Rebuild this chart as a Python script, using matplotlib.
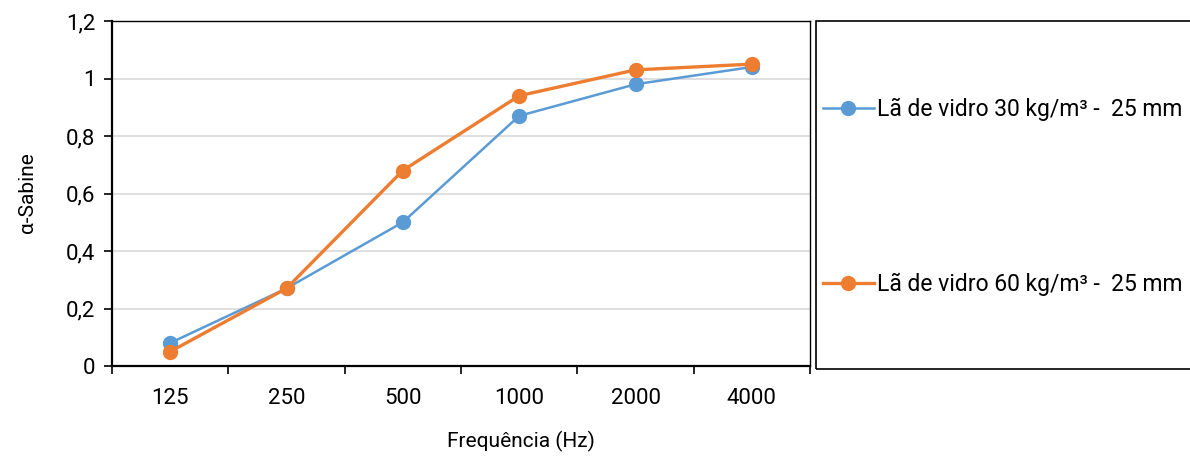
import matplotlib

matplotlib.use("Agg")

import matplotlib.pyplot as plt
from matplotlib.patches import Rectangle
from matplotlib.ticker import FuncFormatter

FREQS = ["125", "250", "500", "1000", "2000", "4000"]
WOOL_30 = [0.08, 0.27, 0.50, 0.87, 0.98, 1.04]
WOOL_60 = [0.05, 0.27, 0.68, 0.94, 1.03, 1.05]
LABELS = ["Lã de vidro 30 kg/m³ -  25 mm", "Lã de vidro 60 kg/m³ -  25 mm"]
COLORS = ["#5B9BD5", "#ED7D31"]

plt.rcParams["font.family"] = ["Roboto", "DejaVu Sans"]

W, H = 1190, 458
fig = plt.figure(figsize=(W / 100, H / 100), dpi=100)
ax = fig.add_axes([112 / W, 1 - 366 / H, 698 / W, 345 / H])

x = list(range(len(FREQS)))
h1, = ax.plot(x, WOOL_30, color=COLORS[0], lw=1.8, marker="o", ms=10, label=LABELS[0], zorder=3)
h2, = ax.plot(x, WOOL_60, color=COLORS[1], lw=2.4, marker="o", ms=10, label=LABELS[1], zorder=4)

ax.set_xlim(-0.5, len(FREQS) - 0.5)
ax.set_ylim(0, 1.2)
ax.set_yticks([0, 0.2, 0.4, 0.6, 0.8, 1.0, 1.2])
ax.yaxis.set_major_formatter(FuncFormatter(lambda v, _: f"{v:g}".replace(".", ",")))
ax.set_xticks(x)
ax.set_xticklabels(FREQS)
ax.set_xticks([i - 0.5 for i in range(len(FREQS) + 1)], minor=True)
ax.tick_params(axis="x", which="major", length=0, pad=16, labelsize=16)
ax.tick_params(axis="x", which="minor", length=6, width=1.2, direction="out")
ax.tick_params(axis="y", length=6, width=1.2, direction="out", labelsize=16, pad=6)

ax.grid(axis="y", color="#D9D9D9", lw=1.2)
ax.set_axisbelow(True)
for side in ["left", "bottom"]:
    ax.spines[side].set_linewidth(1.6)
for side in ["top", "right"]:
    ax.spines[side].set_linewidth(1.0)

fig.text(27 / W, 1 - 193 / H, "α-Sabine", rotation=90, ha="center", va="center", fontsize=15)
fig.text(521 / W, 1 - 441 / H, "Frequência (Hz)", ha="center", va="center", fontsize=15)

# legend box
fig.patches.append(Rectangle((816 / W, 1 - 369 / H), 390 / W, 348 / H,
                             transform=fig.transFigure, fill=False, ec="black", lw=1.2))
fig.legend(handles=[h1, h2], loc="center left", bbox_to_anchor=(814 / W, 1 - 197 / H),
           frameon=False, fontsize=16.5, labelspacing=6.6, handlelength=2.2,
           handletextpad=0.15, borderaxespad=0)

fig.savefig("out.png", dpi=100)
